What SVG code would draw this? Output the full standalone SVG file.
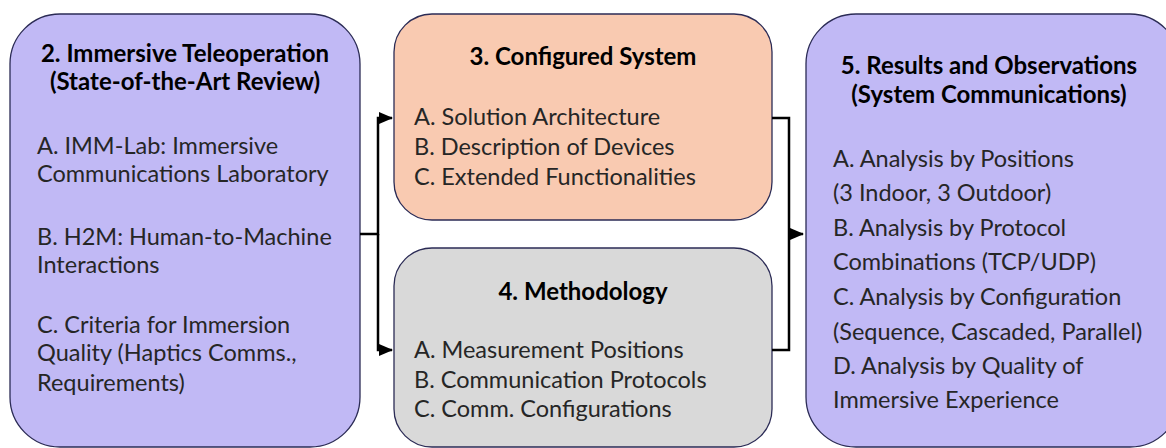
<svg xmlns="http://www.w3.org/2000/svg" width="1166" height="448" viewBox="0 0 1166 448">
  <defs>
    <marker id="arrow" markerWidth="14" markerHeight="12" refX="13" refY="6" orient="auto" markerUnits="userSpaceOnUse">
      <path d="M0,0 L14,6 L0,12 Z" fill="#000"/>
    </marker>
    <style>
      .box { stroke: #2b2b55; stroke-width: 1.3; }
      .purple { fill: #c1b9f5; }
      .peach { fill: #f9cab1; }
      .grey { fill: #d9d9d9; }
      .title { font-family: Lato, "Open Sans", sans-serif; font-weight: bold; font-size: 24px; fill: #000; text-anchor: middle; }
      .body { font-family: Lato, "Open Sans", sans-serif; font-size: 23.5px; fill: #262626; }
      .wire { fill: none; stroke: #000; stroke-width: 2.5; }
    </style>
  </defs>
  <rect width="1166" height="448" fill="#fff"/>

  <g id="node-2">
    <rect class="box purple" x="10" y="14" width="350" height="433" rx="50" ry="50"/>
    <text class="title" x="185" y="62">2. Immersive Teleoperation</text>
    <text class="title" x="185" y="90">(State-of-the-Art Review)</text>
    <text class="body" x="37" y="154">A. IMM-Lab: Immersive</text>
    <text class="body" x="37" y="182">Communications Laboratory</text>
    <text class="body" x="37" y="245">B. H2M: Human-to-Machine</text>
    <text class="body" x="37" y="273">Interactions</text>
    <text class="body" x="37" y="333">C. Criteria for Immersion</text>
    <text class="body" x="37" y="361">Quality (Haptics Comms.,</text>
    <text class="body" x="37" y="391">Requirements)</text>
  </g>

  <g id="node-3">
    <rect class="box peach" x="394" y="14" width="378" height="206" rx="38" ry="38"/>
    <text class="title" x="583" y="65">3. Configured System</text>
    <text class="body" x="414" y="125">A. Solution Architecture</text>
    <text class="body" x="414" y="155">B. Description of Devices</text>
    <text class="body" x="414" y="185">C. Extended Functionalities</text>
  </g>

  <g id="node-4">
    <rect class="box grey" x="394" y="248" width="378" height="199" rx="38" ry="38"/>
    <text class="title" x="583" y="300">4. Methodology</text>
    <text class="body" x="414" y="358">A. Measurement Positions</text>
    <text class="body" x="414" y="388">B. Communication Protocols</text>
    <text class="body" x="414" y="417">C. Comm. Configurations</text>
  </g>

  <g id="node-5">
    <rect class="box purple" x="806" y="14" width="374" height="433" rx="50" ry="50"/>
    <text class="title" x="989" y="74">5. Results and Observations</text>
    <text class="title" x="989" y="103">(System Communications)</text>
    <text class="body" x="833" y="167">A. Analysis by Positions</text>
    <text class="body" x="833" y="201">(3 Indoor, 3 Outdoor)</text>
    <text class="body" x="833" y="236">B. Analysis by Protocol</text>
    <text class="body" x="833" y="270">Combinations (TCP/UDP)</text>
    <text class="body" x="833" y="305">C. Analysis by Configuration</text>
    <text class="body" x="833" y="340">(Sequence, Cascaded, Parallel)</text>
    <text class="body" x="833" y="374">D. Analysis by Quality of</text>
    <text class="body" x="833" y="408">Immersive Experience</text>
  </g>

  <g id="connectors">
    <path class="wire" d="M360,234 H378 V118 H392" marker-end="url(#arrow)"/>
    <path class="wire" d="M378,234 V350 H392" marker-end="url(#arrow)"/>
    <path class="wire" d="M772,118 H789 V350 H772"/>
    <path class="wire" d="M789,234 H803" marker-end="url(#arrow)"/>
  </g>
</svg>
